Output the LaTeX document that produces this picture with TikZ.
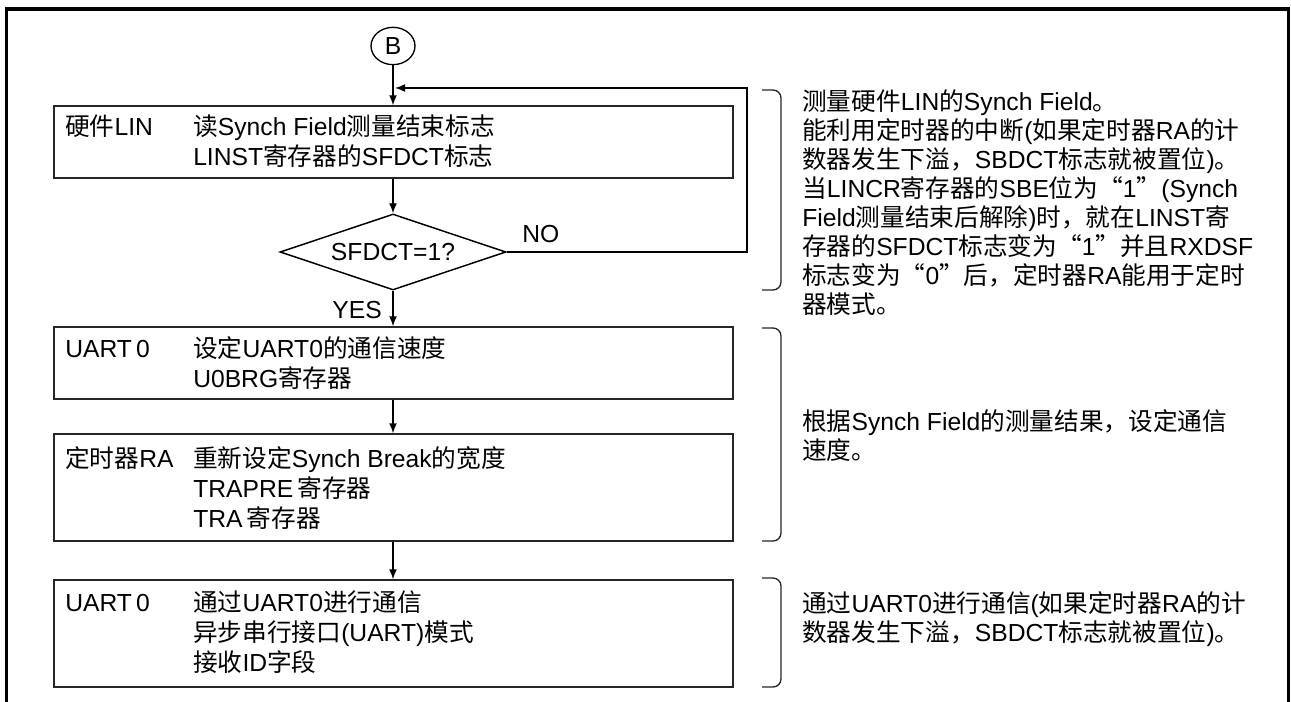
\documentclass[tikz,border=0pt]{standalone}
\usepackage{fontspec}
\setmainfont{Liberation Sans}
\newfontfamily\cjkfont{Noto Sans CJK SC}
\usetikzlibrary{arrows.meta,shapes.geometric,fit}
% automatic switch to the CJK font for CJK characters
\XeTeXinterchartokenstate=1
\newXeTeXintercharclass\CJKcls
\newcount\cjkcnt
\cjkcnt="4E00
\loop
  \XeTeXcharclass\cjkcnt=\CJKcls
  \advance\cjkcnt by 1
\ifnum\cjkcnt<"A000 \repeat
\cjkcnt="3000
\loop
  \XeTeXcharclass\cjkcnt=\CJKcls
  \advance\cjkcnt by 1
\ifnum\cjkcnt<"3040 \repeat
\cjkcnt="FF00
\loop
  \XeTeXcharclass\cjkcnt=\CJKcls
  \advance\cjkcnt by 1
\ifnum\cjkcnt<"FFF0 \repeat
\XeTeXcharclass"201C=\CJKcls
\XeTeXcharclass"201D=\CJKcls
\XeTeXinterchartoks 0 \CJKcls = {\begingroup\cjkfont}
\XeTeXinterchartoks 4095 \CJKcls = {\begingroup\cjkfont}
\XeTeXinterchartoks \CJKcls 0 = {\endgroup}
\XeTeXinterchartoks \CJKcls 4095 = {\endgroup}
\newcommand\mlines[2]{\vtop{\baselineskip=#1\lineskiplimit=-\maxdimen\lineskip=0pt\relax #2}}
\begin{document}
\begin{tikzpicture}[x=0.75pt,y=-0.75pt,
  every node/.style={font=\fontsize{18.5pt}{22.5pt}\selectfont, inner sep=0pt, text=black},
  conn/.style={line width=1.1pt, draw=black, -{Latex[length=7.5pt,width=6pt]}},
  line/.style={line width=1.1pt, draw=black},
  procbox/.style={draw=black!85, line width=1.1pt, rectangle, inner sep=0pt},
  txt/.style={anchor=base west},
  bracestyle/.style={line width=1pt, draw=black!85, rounded corners=6pt},
  frame/.style={line width=2.3pt, draw=black}
]
\useasboundingbox (0,0) rectangle (1291,702);
% outer frame
\draw[frame] (6.5,702) -- (6.5,9) -- (1288.5,9) -- (1288.5,702);

% connector B
\node[ellipse, draw, line width=1pt, minimum width=33pt, minimum height=28pt] (B) at (393,46) {B};

% boxes
\node[procbox, fit={(54,106) (733,178)}] (b1) {};
\node[procbox, fit={(54,327) (733,399)}] (b2) {};
\node[procbox, fit={(54,434) (733,541)}] (b3) {};
\node[procbox, fit={(54,580) (733,687)}] (b4) {};

% decision
\node[diamond, draw, line width=1.1pt, aspect=2.97, minimum width=169.5pt, minimum height=57pt] (d) at (393,252) {SFDCT=1?};

% box texts
\node[txt] (b1l) at (65,136) {硬件LIN};
\node[txt] (b1t) at (193,136) {\mlines{22.5pt}{\hbox{读Synch Field测量结束标志}\hbox{LINST寄存器的SFDCT标志}}};
\node[txt] (b2l) at (65,357) {UART\,0};
\node[txt] (b2t) at (193,357) {\mlines{22.5pt}{\hbox{设定UART0的通信速度}\hbox{U0BRG寄存器}}};
\node[txt] (b3l) at (65,467) {定时器RA};
\node[txt] (b3t) at (193,467) {\mlines{22.5pt}{\hbox{重新设定Synch Break的宽度}\hbox{TRAPRE\,寄存器}\hbox{TRA\,寄存器}}};
\node[txt] (b4l) at (65,611) {UART\,0};
\node[txt] (b4t) at (193,611) {\mlines{22.5pt}{\hbox{通过UART0进行通信}\hbox{异步串行接口(UART)模式}\hbox{接收ID字段}}};

% labels
\node[anchor=base west] (no) at (522,243) {NO};
\node[anchor=base east] (yes) at (382,318) {YES};

% connectors
\coordinate (fbc) at (747,88);
\coordinate (fbin) at (395,88);
\draw[conn] (B.south) -- (B.south |- b1.north);
\draw[conn] (B.south |- b1.south) -- (d.north);
\draw[conn] (d.east) -| (fbc) -- (fbin);
\draw[conn] (d.south) -- (d.south |- b2.north);
\draw[conn] (B.south |- b2.south) -- (B.south |- b3.north);
\draw[conn] (B.south |- b3.south) -- (B.south |- b4.north);

% braces
\draw[bracestyle] (762,90) -- (781,90) -- (781,290) -- (762,290);
\draw[bracestyle] (762,328) -- (781,328) -- (781,541) -- (762,541);
\draw[bracestyle] (762,578) -- (781,578) -- (781,687) -- (762,687);

% notes
\node[txt] (n1) at (802,111) {\mlines{21.75pt}{%
\hbox{测量硬件LIN的Synch Field。}%
\hbox{能利用定时器的中断(如果定时器RA的计}%
\hbox{数器发生下溢，SBDCT标志就被置位)。}%
\hbox{当LINCR寄存器的SBE位为“1”(Synch}%
\hbox{Field测量结束后解除)时，就在LINST寄}%
\hbox{存器的SFDCT标志变为“1”并且RXDSF}%
\hbox{标志变为“0”后，定时器RA能用于定时}%
\hbox{器模式。}}};
\node[txt] (n2) at (802,430) {\mlines{21.75pt}{%
\hbox{根据Synch Field的测量结果，设定通信}%
\hbox{速度。}}};
\node[txt] (n3) at (802,612) {\mlines{21.75pt}{%
\hbox{通过UART0进行通信(如果定时器RA的计}%
\hbox{数器发生下溢，SBDCT标志就被置位)。}}};
\end{tikzpicture}
\end{document}
